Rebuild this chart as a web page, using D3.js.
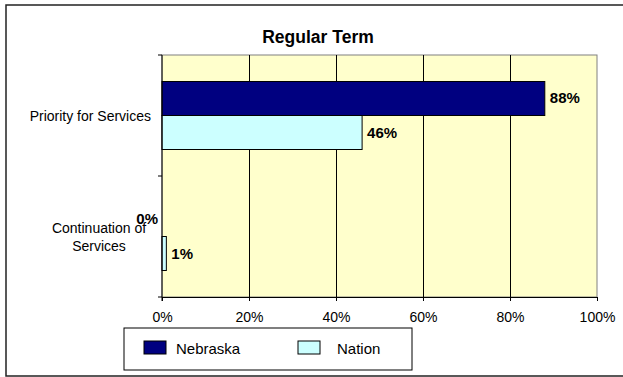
<!DOCTYPE html>
<html><head><meta charset="utf-8">
<script src="https://cdn.jsdelivr.net/npm/d3@7"></script>
<style>body{margin:0;background:#fff}svg{display:block}text{font-family:"Liberation Sans",Arial,sans-serif}</style>
</head><body><svg id="c" width="623" height="377"></svg>
<script>
const categories = ["Priority for Services", "Continuation of Services"];
const seriesNames = ["Nebraska", "Nation"];
const nebraska = [88, 0];
const nation = [46, 1];
const ticks = [0, 20, 40, 60, 80, 100];
const title = "Regular Term";

const colors = {Nebraska: "#000080", Nation: "#CCFFFF"};
const FF = "'Liberation Sans', Arial, sans-serif";
const svg = d3.select("#c");
// outer border
svg.append("rect").attr("x", 6).attr("y", 5).attr("width", 640).attr("height", 371)
  .attr("fill", "#fff").attr("stroke", "#222").attr("stroke-width", 1.5);

const m = {l: 162, r: 597, t: 55, b: 297};
const x = d3.scaleLinear().domain([0, 100]).range([m.l, m.r]);
const y = d3.scaleBand().domain(categories).range([m.t, m.b]).paddingInner(0.438).paddingOuter(0.219);
const ys = d3.scaleBand().domain(seriesNames).range([0, y.bandwidth()]);

svg.append("rect").attr("x", m.l).attr("y", m.t).attr("width", m.r - m.l).attr("height", m.b - m.t)
  .attr("fill", "#FFFFCC").attr("stroke", "#808080");

// gridlines
svg.append("g").selectAll("line").data(ticks.slice(1, -1)).join("line")
  .attr("x1", d => x(d)).attr("x2", d => x(d)).attr("y1", m.t).attr("y2", m.b)
  .attr("stroke", "#000").attr("stroke-width", 1).attr("shape-rendering", "crispEdges");

const data = [];
categories.forEach((c, i) => {
  data.push({c, s: "Nebraska", v: nebraska[i]});
  data.push({c, s: "Nation", v: nation[i]});
});

svg.append("g").selectAll("rect").data(data).join("rect")
  .attr("x", x(0)).attr("y", d => y(d.c) + ys(d.s))
  .attr("width", d => x(d.v) - x(0)).attr("height", ys.bandwidth())
  .attr("fill", d => colors[d.s]).attr("stroke", "#000").attr("stroke-width", 1)
  .attr("display", d => d.v === 0 ? "none" : null);

svg.append("g").selectAll("text").data(data).join("text")
  .attr("x", d => d.v === 0 ? x(0) - 4 : x(d.v) + 5)
  .attr("y", d => y(d.c) + ys(d.s) + ys.bandwidth() / 2 + 5)
  .attr("text-anchor", d => d.v === 0 ? "end" : "start")
  .attr("font-size", 15).attr("font-weight", "bold")
  .text(d => d.v + "%");

// x axis
const xa = svg.append("g").attr("transform", `translate(0,${m.b})`)
  .call(d3.axisBottom(x).tickValues(ticks).tickFormat(d => d + "%").tickSize(4).tickPadding(11));
xa.select(".domain").attr("stroke", "#000");
xa.selectAll("text").attr("font-size", 14).attr("font-family", FF).attr("fill", "#000");

// y axis line and ticks
svg.append("line").attr("x1", m.l).attr("x2", m.l).attr("y1", m.t).attr("y2", m.b + 4).attr("stroke", "#000");
svg.append("g").selectAll("line").data([m.t, (m.t + m.b) / 2, m.b]).join("line")
  .attr("x1", m.l - 4).attr("x2", m.l).attr("y1", d => d).attr("y2", d => d).attr("stroke", "#000");

// category labels
const cy0 = y(categories[0]) + y.bandwidth() / 2;
svg.append("text").attr("font-size", 14).attr("text-anchor", "end")
  .attr("x", 151).attr("y", cy0 + 5).text(categories[0]);
const cy1 = y(categories[1]) + y.bandwidth() / 2;
const t1 = svg.append("text").attr("font-size", 14).attr("text-anchor", "middle");
t1.append("tspan").attr("x", 99).attr("y", cy1 - 4).text("Continuation of");
t1.append("tspan").attr("x", 99).attr("y", cy1 + 14).text("Services");

svg.append("text").attr("x", 318).attr("y", 43).attr("text-anchor", "middle")
  .attr("font-size", 17.5).attr("font-weight", "bold").text(title);

// legend
const lg = svg.append("g");
lg.append("rect").attr("x", 124).attr("y", 328).attr("width", 288).attr("height", 42)
  .attr("fill", "#fff").attr("stroke", "#000");
const lx = [144, 298];
seriesNames.forEach((s, i) => {
  lg.append("rect").attr("x", lx[i]).attr("y", 341).attr("width", 22).attr("height", 13)
    .attr("fill", colors[s]).attr("stroke", "#000");
  lg.append("text").attr("x", lx[i] + (i === 0 ? 32 : 39)).attr("y", 354).attr("font-size", 15).text(s);
});
</script></body></html>
